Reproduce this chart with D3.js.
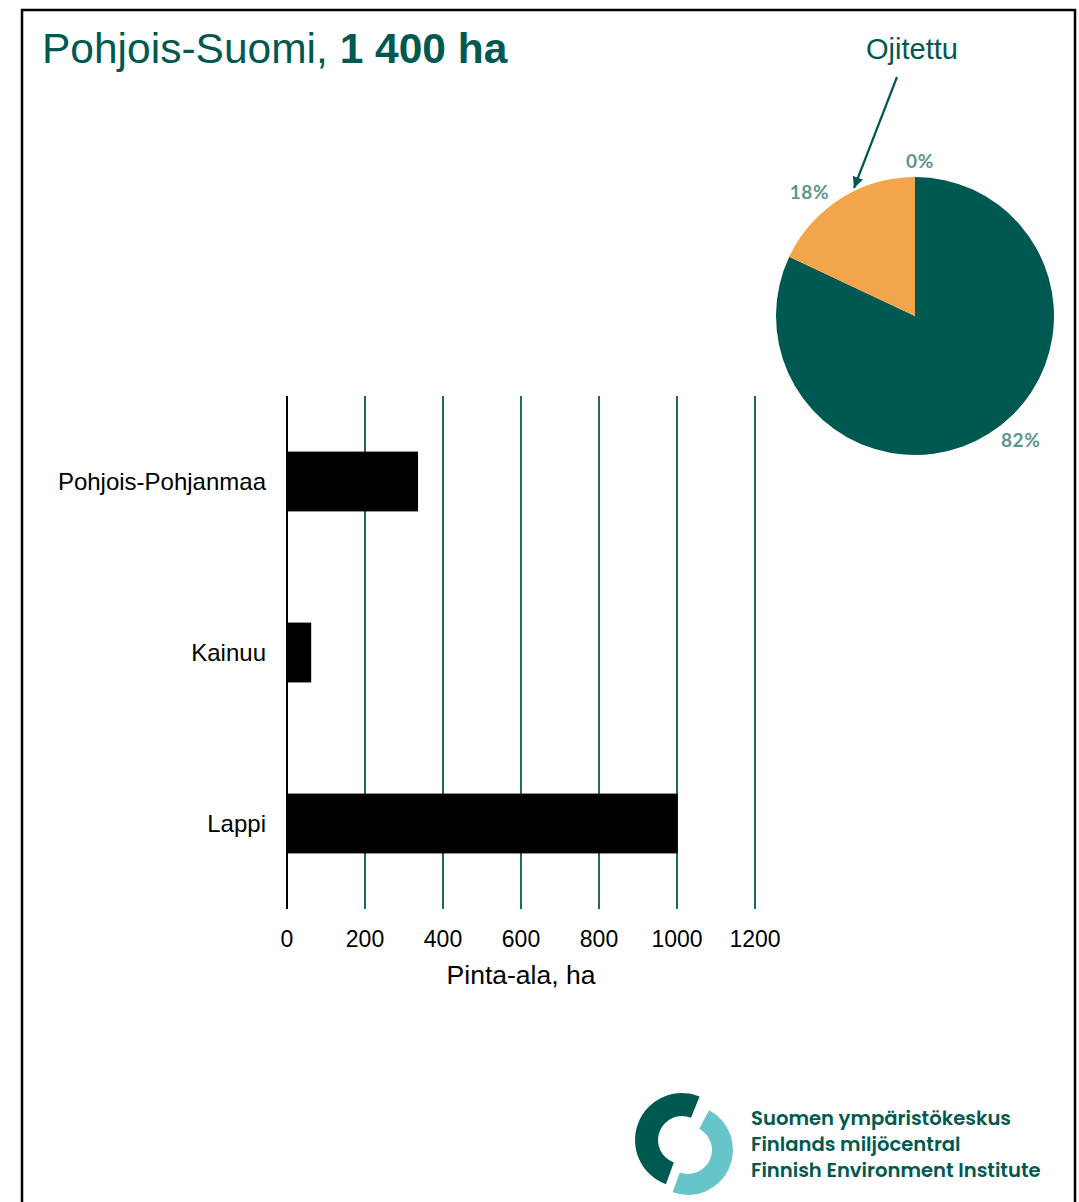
<!DOCTYPE html>
<html><head><meta charset="utf-8">
<script src="https://cdn.jsdelivr.net/npm/d3@7"></script>
<style>body{margin:0;background:#fff}svg{display:block}</style>
</head><body>
<script>
// ---- data ----
const regions = ["Pohjois-Pohjanmaa", "Kainuu", "Lappi"];
const areas = [336, 62, 1002];
const xTicks = [0, 200, 400, 600, 800, 1000, 1200];
const pieNames = ["Muu", "Ojittamaton", "Ojitettu"];
const pieShares = [0, 82, 18];
const pieColors = ["#9dbdb9", "#005951", "#f2a54a"];
const titleRegular = "Pohjois-Suomi, ";
const titleBold = "1 400 ha";
const xTitle = "Pinta-ala, ha";
const annotation = "Ojitettu";
const logoLines = ["Suomen ympäristökeskus", "Finlands miljöcentral", "Finnish Environment Institute"];

const W = 1079, H = 1202;
const teal = "#005951";
const svg = d3.select("body").append("svg").attr("width", W).attr("height", H);

// frame
svg.append("rect").attr("x", 22).attr("y", 10).attr("width", 1053).attr("height", 1220)
  .attr("fill", "none").attr("stroke", "#000").attr("stroke-width", 2.5);

const font = "Liberation Sans, Arial, sans-serif";

// title
const t = svg.append("text").attr("x", 42).attr("y", 63)
  .attr("font-family", font).attr("font-size", 42.5).attr("fill", teal);
t.append("tspan").text(titleRegular);
t.append("tspan").attr("font-weight", "bold").text(titleBold);

// ---- bar chart ----
const x = d3.scaleLinear().domain([0, 1200]).range([287, 755]);
const y = d3.scaleBand().domain(regions).range([396, 909]).paddingInner(0.65).paddingOuter(0.325);

svg.append("g").selectAll("line").data(xTicks.filter(d => d > 0)).join("line")
  .attr("x1", d => x(d)).attr("x2", d => x(d)).attr("y1", 396).attr("y2", 909)
  .attr("stroke", "#1d6b63").attr("stroke-width", 2);

svg.append("g").selectAll("rect").data(regions).join("rect")
  .attr("x", x(0)).attr("y", d => y(d)).attr("height", y.bandwidth())
  .attr("width", (d, i) => x(areas[i]) - x(0)).attr("fill", "#000");

svg.append("line").attr("x1", x(0)).attr("x2", x(0)).attr("y1", 396).attr("y2", 909)
  .attr("stroke", "#000").attr("stroke-width", 2);

svg.append("g").selectAll("text").data(xTicks).join("text")
  .attr("x", d => x(d)).attr("y", 947).attr("text-anchor", "middle")
  .attr("font-family", font).attr("font-size", 23).attr("fill", "#000").text(d => d);

svg.append("text").attr("x", x(600)).attr("y", 984).attr("text-anchor", "middle")
  .attr("font-family", font).attr("font-size", 26.5).attr("fill", "#000").text(xTitle);

svg.append("g").selectAll("text").data(regions).join("text")
  .attr("x", 266).attr("y", d => y(d) + y.bandwidth() / 2).attr("dy", "0.35em")
  .attr("text-anchor", "end").attr("font-family", font).attr("font-size", 24).attr("fill", "#000").text(d => d);

// ---- pie ----
const cx = 915, cy = 316, R = 139;
const pie = d3.pie().sort(null).value(d => d)(pieShares);
const arc = d3.arc().innerRadius(0).outerRadius(R);
const pg = svg.append("g").attr("transform", `translate(${cx},${cy})`);
pg.selectAll("path").data(pie).join("path").attr("d", arc).attr("fill", (d, i) => pieColors[i]);
const labelRot = -8 * Math.PI / 180;
pg.selectAll("text").data(pie).join("text")
  .each(function (d) {
    const zero = d.endAngle - d.startAngle < 1e-6;
    const a = (d.startAngle + d.endAngle) / 2 + (zero ? 0 : labelRot);
    const r = zero ? 155 : 163;
    d3.select(this).attr("x", r * Math.sin(a) + (zero ? 5 : 0)).attr("y", -r * Math.cos(a));
  })
  .attr("text-anchor", "middle").attr("dy", "0.35em")
  .attr("font-family", "Lato, Open Sans, sans-serif").attr("font-weight", "bold")
  .attr("font-size", 19).attr("letter-spacing", 0.6).attr("fill", "#5e9690").text(d => d.data + "%");

// annotation
svg.append("defs").append("marker").attr("id", "ah").attr("viewBox", "0 0 10 10")
  .attr("refX", 10).attr("refY", 5).attr("markerWidth", 5).attr("markerHeight", 5)
  .attr("orient", "auto").attr("markerUnits", "strokeWidth")
  .append("path").attr("d", "M0,0L10,5L0,10z").attr("fill", teal);
svg.append("text").attr("x", 912).attr("y", 59).attr("text-anchor", "middle")
  .attr("font-family", font).attr("font-size", 29).attr("fill", teal).text(annotation);
svg.append("line").attr("x1", 897).attr("y1", 77).attr("x2", 854).attr("y2", 188)
  .attr("stroke", teal).attr("stroke-width", 2.2).attr("marker-end", "url(#ah)");

// ---- logo ----
const lg = svg.append("g");
lg.append("path").attr("transform", "translate(682,1140)")
  .attr("d", d3.arc().innerRadius(24).outerRadius(47).startAngle(200 * Math.PI / 180).endAngle(382 * Math.PI / 180)())
  .attr("fill", teal);
lg.append("path").attr("transform", "translate(688,1150)")
  .attr("d", d3.arc().innerRadius(24).outerRadius(45).startAngle(28 * Math.PI / 180).endAngle(200 * Math.PI / 180)())
  .attr("fill", "#67c4c9");
svg.append("g").selectAll("text").data(logoLines).join("text")
  .attr("x", 751).attr("y", (d, i) => 1125 + i * 26)
  .attr("font-family", "Poppins, Inter, Open Sans, sans-serif").attr("font-weight", "600")
  .attr("font-size", 19.6).attr("fill", teal).text(d => d);
</script>
</body></html>
